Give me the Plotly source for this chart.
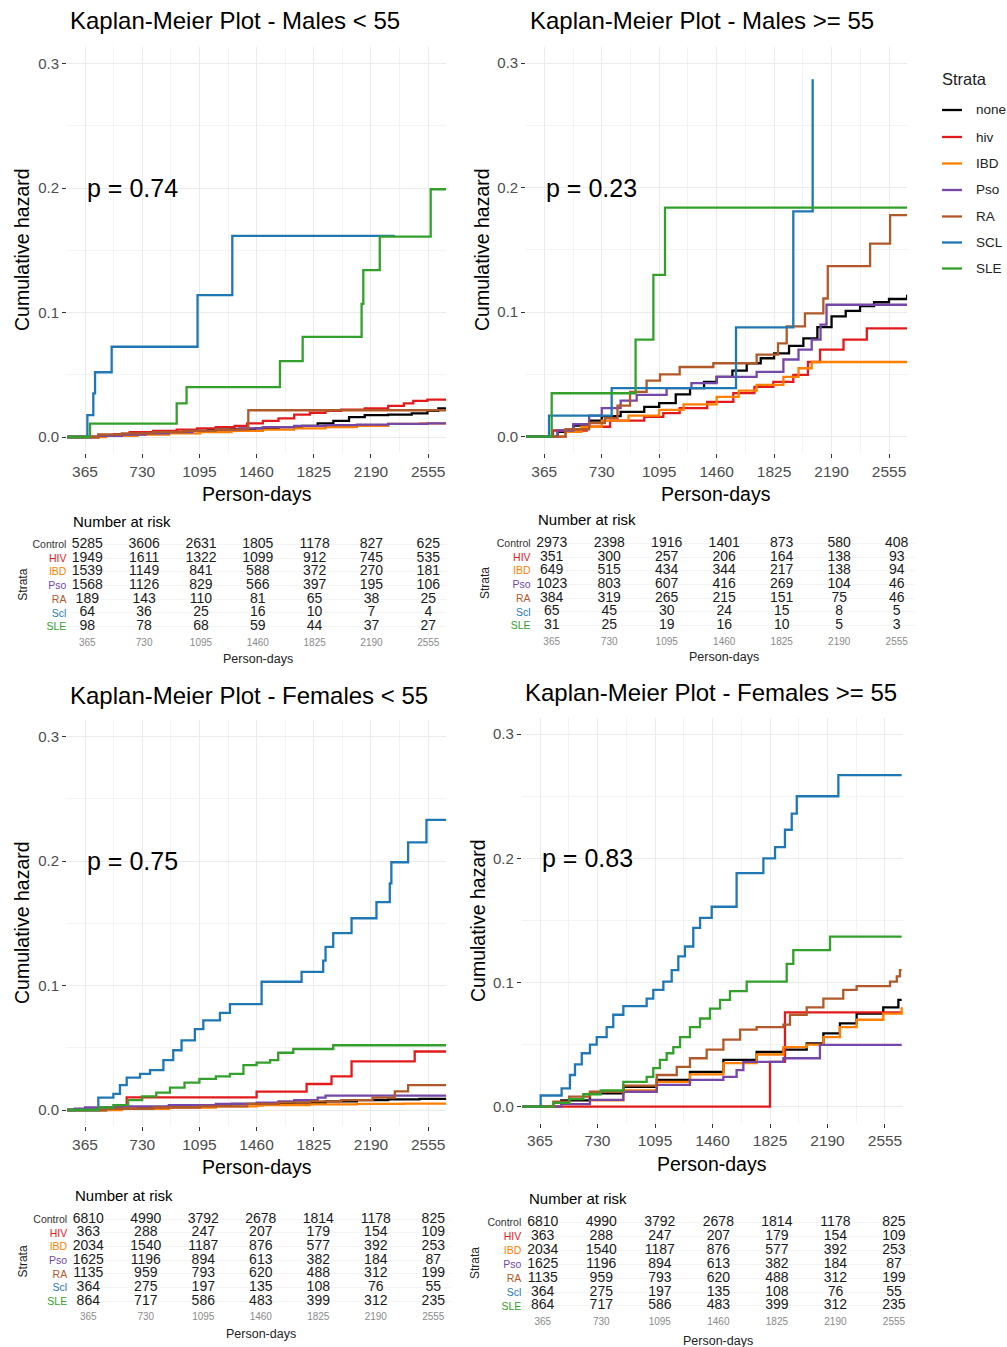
import plotly.graph_objects as go

W, H = 1007, 1347
FONT = "Liberation Sans, Arial, sans-serif"

STRATA = ["none", "hiv", "IBD", "Pso", "RA", "SCL", "SLE"]
COLORS = ["#000000", "#E31A1C", "#FF7F00", "#7447A8", "#B15928", "#1F78B4", "#33A02C"]
ROW_LABELS = ["Control", "HIV", "IBD", "Pso", "RA", "Scl", "SLE"]
ROW_COLORS = ["#333333", "#E31A1C", "#FF7F00", "#7447A8", "#B15928", "#1F78B4", "#33A02C"]
TICKS = [365, 730, 1095, 1460, 1825, 2190, 2555]
TITLES = ["Kaplan-Meier Plot - Males < 55", "Kaplan-Meier Plot - Males >= 55",
          "Kaplan-Meier Plot - Females < 55", "Kaplan-Meier Plot - Females >= 55"]
PVALS = ["p = 0.74", "p = 0.23", "p = 0.75", "p = 0.83"]

# ---------------- Males < 55 : (day, cumulative hazard) step points ----------------
m_lt55_none = [(250, 0), (365, 0), (450, 0.001), (550, 0.002), (700, 0.003), (850, 0.004), (1000, 0.005),
               (1150, 0.006), (1300, 0.0065), (1450, 0.007), (1600, 0.008), (1750, 0.009), (1850, 0.011),
               (1950, 0.013), (2050, 0.016), (2150, 0.0175), (2300, 0.018), (2450, 0.019), (2550, 0.021),
               (2620, 0.023), (2670, 0.023)]
m_lt55_hiv = [(250, 0), (365, 0), (450, 0.001), (550, 0.002), (650, 0.004), (800, 0.005), (950, 0.006),
              (1080, 0.007), (1200, 0.008), (1320, 0.009), (1400, 0.011), (1500, 0.013), (1600, 0.015),
              (1700, 0.018), (1800, 0.0195), (1900, 0.021), (2000, 0.022), (2150, 0.023), (2300, 0.025),
              (2400, 0.027), (2460, 0.029), (2550, 0.03), (2670, 0.03)]
m_lt55_ibd = [(250, 0), (365, 0), (500, 0.001), (700, 0.002), (900, 0.003), (1100, 0.004), (1300, 0.005),
              (1500, 0.006), (1700, 0.007), (1900, 0.008), (2100, 0.009), (2300, 0.0105), (2500, 0.011),
              (2670, 0.011)]
m_lt55_pso = [(250, 0), (365, 0), (450, 0.001), (600, 0.002), (750, 0.003), (900, 0.004), (1050, 0.005),
              (1200, 0.006), (1350, 0.007), (1500, 0.008), (1700, 0.009), (1900, 0.0095), (2100, 0.01),
              (2300, 0.0105), (2550, 0.011), (2670, 0.011)]
m_lt55_ra = [(250, 0), (365, 0), (450, 0.002), (600, 0.003), (800, 0.004), (1000, 0.005), (1200, 0.006),
             (1407, 0.0215), (2670, 0.0215)]
m_lt55_scl = [(250, 0), (365, 0), (380, 0.0175), (418, 0.035), (429, 0.052), (535, 0.0725), (1083, 0.114),
              (1305, 0.1616), (2342, 0.1616)]
m_lt55_sle = [(250, 0), (397, 0.0107), (950, 0.027), (1013, 0.040), (1609, 0.061), (1754, 0.0805),
              (2130, 0.107), (2141, 0.134), (2246, 0.161), (2571, 0.199), (2671, 0.199)]

# ---------------- Males >= 55 ----------------
m_ge55_none = [(250, 0), (365, 0), (450, 0.004), (550, 0.009), (650, 0.013), (730, 0.0166), (850, 0.02),
               (1000, 0.024), (1095, 0.027), (1200, 0.034), (1291, 0.039), (1380, 0.044), (1460, 0.048),
               (1560, 0.053), (1651, 0.059), (1740, 0.063), (1825, 0.067), (1920, 0.073), (2011, 0.079),
               (2100, 0.088), (2190, 0.0966), (2280, 0.101), (2371, 0.105), (2460, 0.108), (2555, 0.1106),
               (2670, 0.114)]
m_ge55_hiv = [(250, 0), (365, 0), (420, 0.005), (634, 0.008), (783, 0.013), (1000, 0.016), (1121, 0.019),
              (1225, 0.023), (1400, 0.028), (1566, 0.035), (1700, 0.04), (1820, 0.044), (1947, 0.0497),
              (2040, 0.06), (2117, 0.07), (2266, 0.078), (2414, 0.087), (2670, 0.087)]
m_ge55_ibd = [(250, 0), (365, 0), (500, 0.004), (600, 0.008), (730, 0.013), (900, 0.017), (1095, 0.0215),
              (1250, 0.026), (1460, 0.032), (1600, 0.037), (1714, 0.0416), (1884, 0.048), (1980, 0.055),
              (2064, 0.06), (2670, 0.061)]
m_ge55_pso = [(250, 0), (365, 0), (450, 0.005), (549, 0.01), (650, 0.017), (730, 0.023), (850, 0.029),
              (952, 0.0336), (1142, 0.039), (1300, 0.043), (1460, 0.048), (1714, 0.052), (1884, 0.062),
              (1980, 0.07), (2064, 0.078), (2120, 0.09), (2158, 0.106), (2670, 0.106)]
m_ge55_ra = [(250, 0), (365, 0), (500, 0.006), (650, 0.011), (750, 0.015), (830, 0.025), (910, 0.036),
             (1015, 0.045), (1100, 0.05), (1225, 0.056), (1439, 0.059), (1714, 0.066), (1850, 0.075),
             (1905, 0.0886), (2021, 0.099), (2138, 0.111), (2166, 0.137), (2435, 0.155), (2562, 0.178),
             (2670, 0.178)]
m_ge55_scl = [(250, 0), (395, 0.0169), (793, 0.039), (1583, 0.0878), (1947, 0.181), (2070, 0.287)]
m_ge55_sle = [(250, 0), (412, 0.0349), (945, 0.078), (1058, 0.130), (1132, 0.184), (2670, 0.184)]

# ---------------- Females < 55 ----------------
f_lt55_none = [(250, 0), (365, 0), (500, 0.001), (700, 0.002), (900, 0.003), (1100, 0.004), (1300, 0.005),
               (1500, 0.0055), (1700, 0.006), (1900, 0.007), (2100, 0.008), (2300, 0.0085), (2500, 0.009),
               (2670, 0.0095)]
f_lt55_hiv = [(250, 0), (365, 0), (500, 0.002), (631, 0.0102), (1460, 0.0147), (1779, 0.0209),
              (1938, 0.027), (2066, 0.039), (2469, 0.047), (2670, 0.047)]
f_lt55_ibd = [(250, 0), (365, 0), (600, 0.001), (900, 0.002), (1200, 0.003), (1460, 0.0035), (1500, 0.004),
              (1800, 0.0045), (2100, 0.005), (2400, 0.0052), (2670, 0.0055)]
f_lt55_pso = [(250, 0), (300, 0.001), (365, 0.002), (600, 0.003), (900, 0.004), (1200, 0.005), (1460, 0.006),
              (1600, 0.007), (1700, 0.008), (1850, 0.01), (1900, 0.0115), (2670, 0.012)]
f_lt55_ra = [(250, 0), (365, 0), (500, 0.001), (800, 0.002), (1100, 0.003), (1400, 0.005), (1600, 0.006),
             (1800, 0.007), (2000, 0.008), (2200, 0.01), (2342, 0.015), (2427, 0.02), (2670, 0.02)]
f_lt55_scl = [(250, 0), (365, 0), (450, 0.0099), (546, 0.013), (588, 0.02), (631, 0.026), (716, 0.029),
              (780, 0.032), (865, 0.04), (928, 0.048), (981, 0.056), (1066, 0.065), (1120, 0.072),
              (1226, 0.078), (1290, 0.085), (1492, 0.103), (1747, 0.111), (1885, 0.12), (1900, 0.131),
              (1949, 0.142), (2066, 0.154), (2225, 0.167), (2310, 0.182), (2320, 0.199), (2427, 0.215),
              (2544, 0.233), (2670, 0.233)]
f_lt55_sle = [(250, 0), (365, 0), (450, 0.002), (546, 0.004), (640, 0.008), (730, 0.011), (820, 0.014),
              (907, 0.018), (1000, 0.022), (1095, 0.025), (1200, 0.027), (1290, 0.029), (1376, 0.036),
              (1460, 0.038), (1546, 0.04), (1598, 0.046), (1694, 0.049), (1949, 0.052), (2670, 0.052)]

# ---------------- Females >= 55 ----------------
f_ge55_none = [(250, 0), (365, 0), (500, 0.005), (682, 0.0107), (894, 0.016), (1106, 0.0215), (1317, 0.028),
               (1529, 0.0376), (1740, 0.044), (1910, 0.046), (2058, 0.051), (2164, 0.059), (2269, 0.067),
               (2375, 0.075), (2544, 0.08), (2640, 0.086), (2661, 0.086)]
f_ge55_hiv = [(250, 0), (590, 0), (1825, 0.036), (1920, 0.076), (2661, 0.076)]
f_ge55_ibd = [(250, 0), (365, 0), (500, 0.002), (682, 0.005), (894, 0.013), (1106, 0.02), (1317, 0.026),
              (1529, 0.035), (1740, 0.042), (1910, 0.048), (2058, 0.05), (2164, 0.056), (2269, 0.064),
              (2375, 0.07), (2544, 0.075), (2661, 0.08)]
f_ge55_pso = [(250, 0), (365, 0), (500, 0.002), (682, 0.0054), (894, 0.012), (1106, 0.0175), (1317, 0.0215),
              (1529, 0.024), (1613, 0.0295), (1656, 0.036), (1910, 0.039), (2142, 0.0497), (2661, 0.0497)]
f_ge55_ra = [(250, 0), (365, 0), (450, 0.004), (550, 0.008), (682, 0.012), (894, 0.017), (1106, 0.0255),
             (1233, 0.032), (1317, 0.039), (1423, 0.046), (1529, 0.054), (1635, 0.062), (1740, 0.064),
             (1910, 0.066), (1952, 0.074), (2058, 0.08), (2164, 0.087), (2290, 0.094), (2375, 0.097),
             (2587, 0.1007), (2630, 0.105), (2650, 0.11), (2661, 0.11)]
f_ge55_scl = [(250, 0), (365, 0), (369, 0.009), (502, 0.0148), (555, 0.0255), (587, 0.034), (630, 0.043),
              (682, 0.05), (725, 0.056), (788, 0.064), (830, 0.074), (894, 0.081), (1042, 0.087),
              (1084, 0.094), (1148, 0.1007), (1201, 0.11), (1243, 0.121), (1285, 0.129), (1338, 0.144),
              (1381, 0.152), (1455, 0.161), (1613, 0.188), (1783, 0.2), (1857, 0.209), (1920, 0.223),
              (1963, 0.236), (1995, 0.25), (2259, 0.267), (2661, 0.267)]
f_ge55_sle = [(250, 0), (365, 0), (450, 0.003), (550, 0.006), (640, 0.01), (750, 0.013), (894, 0.02),
              (1042, 0.024), (1084, 0.031), (1126, 0.0376), (1169, 0.043), (1211, 0.048), (1254, 0.056),
              (1317, 0.064), (1381, 0.071), (1444, 0.079), (1508, 0.086), (1571, 0.093), (1677, 0.1007),
              (1931, 0.115), (1973, 0.126), (2206, 0.137), (2661, 0.137)]

# ---------------- Number at risk (rows: Control, HIV, IBD, Pso, RA, Scl, SLE) ----------------
risk_m_lt55 = [[5285, 3606, 2631, 1805, 1178, 827, 625],
               [1949, 1611, 1322, 1099, 912, 745, 535],
               [1539, 1149, 841, 588, 372, 270, 181],
               [1568, 1126, 829, 566, 397, 195, 106],
               [189, 143, 110, 81, 65, 38, 25],
               [64, 36, 25, 16, 10, 7, 4],
               [98, 78, 68, 59, 44, 37, 27]]
risk_m_ge55 = [[2973, 2398, 1916, 1401, 873, 580, 408],
               [351, 300, 257, 206, 164, 138, 93],
               [649, 515, 434, 344, 217, 138, 94],
               [1023, 803, 607, 416, 269, 104, 46],
               [384, 319, 265, 215, 151, 75, 46],
               [65, 45, 30, 24, 15, 8, 5],
               [31, 25, 19, 16, 10, 5, 3]]
risk_f_lt55 = [[6810, 4990, 3792, 2678, 1814, 1178, 825],
               [363, 288, 247, 207, 179, 154, 109],
               [2034, 1540, 1187, 876, 577, 392, 253],
               [1625, 1196, 894, 613, 382, 184, 87],
               [1135, 959, 793, 620, 488, 312, 199],
               [364, 275, 197, 135, 108, 76, 55],
               [864, 717, 586, 483, 399, 312, 235]]
risk_f_ge55 = [[6810, 4990, 3792, 2678, 1814, 1178, 825],
               [363, 288, 247, 207, 179, 154, 109],
               [2034, 1540, 1187, 876, 577, 392, 253],
               [1625, 1196, 894, 613, 382, 184, 87],
               [1135, 959, 793, 620, 488, 312, 199],
               [364, 275, 197, 135, 108, 76, 55],
               [864, 717, 586, 483, 399, 312, 235]]

CURVES = [
    [m_lt55_none, m_lt55_hiv, m_lt55_ibd, m_lt55_pso, m_lt55_ra, m_lt55_scl, m_lt55_sle],
    [m_ge55_none, m_ge55_hiv, m_ge55_ibd, m_ge55_pso, m_ge55_ra, m_ge55_scl, m_ge55_sle],
    [f_lt55_none, f_lt55_hiv, f_lt55_ibd, f_lt55_pso, f_lt55_ra, f_lt55_scl, f_lt55_sle],
    [f_ge55_none, f_ge55_hiv, f_ge55_ibd, f_ge55_pso, f_ge55_ra, f_ge55_scl, f_ge55_sle],
]
RISKS = [risk_m_lt55, risk_m_ge55, risk_f_lt55, risk_f_ge55]

# ---------------- layout geometry (pixels) ----------------
XR = [250, 2670]
YR = [-0.013, 0.313]
GEO = [
    dict(main=(67, 446.2, 47.3, 453.2), table=(69.4, 446.2, 536.1, 634.9),
         title=(68, 21), ylab=(22, 250), xlab=(256.5, 494),
         nar=(71, 521.7), strata=(22.7, 585), tlab=(257.8, 659.3)),
    dict(main=(526.2, 907.1, 47.0, 452.9), table=(533.6, 914.8, 535.1, 633.9),
         title=(528, 21), ylab=(482, 250), xlab=(716, 494),
         nar=(535.7, 520), strata=(485, 583), tlab=(724, 657.3)),
    dict(main=(67, 446.2, 720.3, 1126.2), table=(70.2, 451.4, 1211.1, 1309.4),
         title=(68, 695), ylab=(22, 923), xlab=(256.5, 1167),
         nar=(72.7, 1195), strata=(22.7, 1261.7), tlab=(260.8, 1334)),
    dict(main=(521.9, 903.1, 718.0, 1122.8), table=(524.3, 912.4, 1214.4, 1314.3),
         title=(523, 692), ylab=(478, 921), xlab=(712, 1164),
         nar=(526.7, 1198.3), strata=(475, 1263), tlab=(718, 1340.7)),
]


def px(x):
    return x / W


def py(y):
    return 1 - y / H


fig = go.Figure()
layout = dict(width=W, height=H, margin=dict(l=0, r=0, t=0, b=0),
              paper_bgcolor="white", plot_bgcolor="white", showlegend=False,
              font=dict(family=FONT, color="#222222"))
annotations = []
shapes = []

for i in range(4):
    g = GEO[i]
    mx, tx = i + 1, i + 5
    xa_m = "xaxis" if mx == 1 else f"xaxis{mx}"
    ya_m = "yaxis" if mx == 1 else f"yaxis{mx}"
    xr_m = "x" if mx == 1 else f"x{mx}"
    yr_m = "y" if mx == 1 else f"y{mx}"
    x0, x1, ytop, ybot = g["main"]
    layout[xa_m] = dict(domain=[px(x0), px(x1)], range=XR, anchor=yr_m,
                        tickmode="array", tickvals=TICKS, ticktext=[str(t) for t in TICKS],
                        ticks="outside", ticklen=4, tickwidth=1, tickcolor="#333333",
                        tickfont=dict(size=15.5, color="#4D4D4D"),
                        showgrid=True, gridcolor="#EBEBEB", gridwidth=1, zeroline=False, showline=False,
                        minor=dict(tickmode="array", tickvals=[t + 182.5 for t in TICKS[:-1]],
                                   showgrid=True, gridcolor="#F3F3F3", ticks=""))
    layout[ya_m] = dict(domain=[py(ybot), py(ytop)], range=YR, anchor=xr_m,
                        tickmode="array", tickvals=[0, 0.1, 0.2, 0.3],
                        ticktext=["0.0", "0.1", "0.2", "0.3"],
                        ticks="outside", ticklen=4, tickwidth=1, tickcolor="#333333",
                        tickfont=dict(size=15, color="#4D4D4D"),
                        showgrid=True, gridcolor="#EBEBEB", gridwidth=1, zeroline=False, showline=False,
                        minor=dict(tickmode="array", tickvals=[0.05, 0.15, 0.25],
                                   showgrid=True, gridcolor="#F3F3F3", ticks=""))
    for k, pts in enumerate(CURVES[i]):
        fig.add_trace(go.Scatter(x=[p[0] for p in pts], y=[p[1] for p in pts], mode="lines",
                                 line=dict(color=COLORS[k], width=2.3, shape="hv"),
                                 xaxis=xr_m, yaxis=yr_m, name=STRATA[k], hoverinfo="skip"))
    annotations.append(dict(x=365, y=0.2, xref=xr_m, yref=yr_m, text=PVALS[i], showarrow=False,
                            xanchor="left", yanchor="middle", font=dict(size=25, color="#000000")))
    annotations.append(dict(x=px(g["title"][0]), y=py(g["title"][1]), xref="paper", yref="paper",
                            text=TITLES[i], showarrow=False, xanchor="left", yanchor="middle",
                            font=dict(size=24, color="#000000")))
    annotations.append(dict(x=px(g["ylab"][0]), y=py(g["ylab"][1]), xref="paper", yref="paper",
                            text="Cumulative hazard", showarrow=False, textangle=-90,
                            xanchor="center", yanchor="middle", font=dict(size=19.5, color="#000000")))
    annotations.append(dict(x=px(g["xlab"][0]), y=py(g["xlab"][1]), xref="paper", yref="paper",
                            text="Person-days", showarrow=False, xanchor="center", yanchor="middle",
                            font=dict(size=19.5, color="#000000")))

    # ---- risk table ----
    xa_t, ya_t, xr_t, yr_t = f"xaxis{tx}", f"yaxis{tx}", f"x{tx}", f"y{tx}"
    a0, a1, btop, bbot = g["table"]
    layout[xa_t] = dict(domain=[px(a0), px(a1)], range=XR, anchor=yr_t,
                        tickmode="array", tickvals=TICKS, ticktext=[str(t) for t in TICKS],
                        ticks="", tickfont=dict(size=10, color="#8A8A8A"),
                        showgrid=True, gridcolor="#F2F2F2", zeroline=False, showline=False)
    layout[ya_t] = dict(domain=[py(bbot), py(btop)], range=[6.6, -0.6], anchor=xr_t,
                        tickmode="array", tickvals=list(range(7)),
                        ticktext=[f'<span style="color:{c}">{lab}</span>' for lab, c in zip(ROW_LABELS, ROW_COLORS)],
                        ticks="", tickfont=dict(size=10.5), ticklabelstandoff=2,
                        showgrid=True, gridcolor="#F4F4F4", zeroline=False, showline=False)
    xs, ys, ts = [], [], []
    for r, row in enumerate(RISKS[i]):
        for c, v in enumerate(row):
            xs.append(TICKS[c])
            ys.append(r)
            ts.append(str(v))
    fig.add_trace(go.Scatter(x=xs, y=ys, text=ts, mode="text", textposition="middle center",
                             textfont=dict(size=14, color="#1A1A1A", family=FONT),
                             xaxis=xr_t, yaxis=yr_t, hoverinfo="skip"))
    annotations.append(dict(x=px(g["nar"][0]), y=py(g["nar"][1]), xref="paper", yref="paper",
                            text="Number at risk", showarrow=False, xanchor="left", yanchor="middle",
                            font=dict(size=15, color="#000000")))
    annotations.append(dict(x=px(g["strata"][0]), y=py(g["strata"][1]), xref="paper", yref="paper",
                            text="Strata", showarrow=False, textangle=-90, xanchor="center",
                            yanchor="middle", font=dict(size=12, color="#222222")))
    annotations.append(dict(x=px(g["tlab"][0]), y=py(g["tlab"][1]), xref="paper", yref="paper",
                            text="Person-days", showarrow=False, xanchor="center", yanchor="middle",
                            font=dict(size=12.5, color="#222222")))

# ---------------- legend (drawn manually) ----------------
annotations.append(dict(x=px(940), y=py(79), xref="paper", yref="paper", text="Strata",
                        showarrow=False, xanchor="left", yanchor="middle",
                        font=dict(size=16.5, color="#222222")))
leg_y = [110, 137, 163.5, 190, 216.5, 242.5, 268.5]
for k, name in enumerate(STRATA):
    shapes.append(dict(type="line", xref="paper", yref="paper", x0=px(942), x1=px(962),
                       y0=py(leg_y[k]), y1=py(leg_y[k]), line=dict(color=COLORS[k], width=2.3)))
    annotations.append(dict(x=px(973.5), y=py(leg_y[k]), xref="paper", yref="paper", text=name,
                            showarrow=False, xanchor="left", yanchor="middle",
                            font=dict(size=13.5, color="#222222")))

layout["annotations"] = annotations
layout["shapes"] = shapes
fig.update_layout(**layout)
fig.write_html("out.html")
